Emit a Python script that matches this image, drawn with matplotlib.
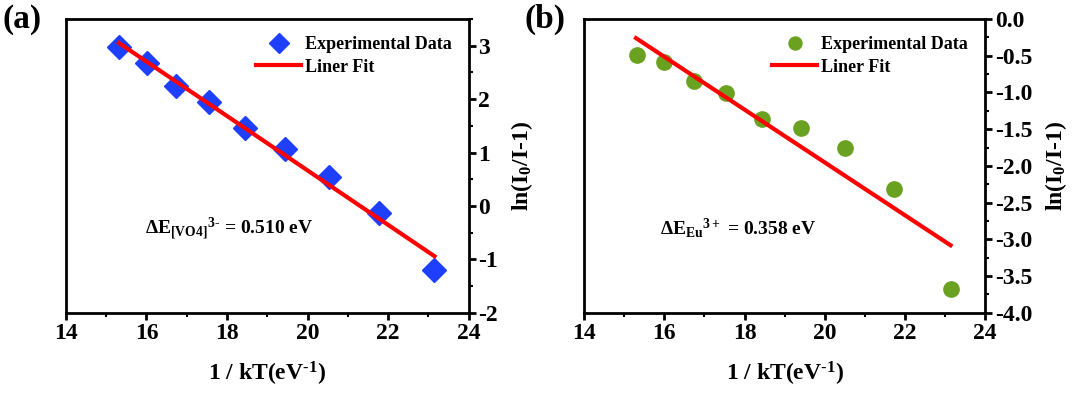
import numpy as np
import matplotlib
matplotlib.use('Agg')
import matplotlib.pyplot as plt
from matplotlib.ticker import MultipleLocator, FormatStrFormatter

plt.rcParams['font.family'] = ['Liberation Serif', 'DejaVu Serif']
plt.rcParams['font.weight'] = 'bold'
plt.rcParams['axes.unicode_minus'] = False
plt.rcParams['mathtext.fontset'] = 'custom'
plt.rcParams['mathtext.rm'] = 'Liberation Serif:bold'
plt.rcParams['mathtext.it'] = 'Liberation Serif:bold'
plt.rcParams['mathtext.bf'] = 'Liberation Serif:bold'

# パネル(a) [VO4]3-
x_a = [15.32, 16.01, 16.74, 17.55, 18.44, 19.45, 20.52, 21.78, 23.15]
y_a = [2.97, 2.68, 2.24, 1.94, 1.46, 1.06, 0.55, -0.14, -1.19]
fit_x_a = [15.32, 23.15]
fit_y_a = [3.05, -0.94]

# パネル(b) Eu3+
x_b = [15.32, 15.98, 16.73, 17.54, 18.44, 19.41, 20.51, 21.74, 23.14]
y_b = [-0.49, -0.59, -0.85, -1.01, -1.36, -1.49, -1.75, -2.32, -3.67]
fit_x_b = [15.29, 23.14]
fit_y_b = [-0.26, -3.08]

fig = plt.figure(figsize=(10.8, 3.96), dpi=100)
ax1 = fig.add_axes([0.061, 0.210, 0.373, 0.742])
ax2 = fig.add_axes([0.541, 0.210, 0.371, 0.742])


def style_axis(ax, ylim, ymajor, yminor):
    ax.set_xlim(14, 24)
    ax.set_ylim(*ylim)
    ax.xaxis.set_major_locator(MultipleLocator(2))
    ax.xaxis.set_minor_locator(MultipleLocator(1))
    ax.yaxis.set_major_locator(MultipleLocator(ymajor))
    ax.yaxis.set_minor_locator(MultipleLocator(yminor))
    ax.yaxis.tick_right()
    ax.yaxis.set_label_position('right')
    for s in ax.spines.values():
        s.set_linewidth(2)
    ax.tick_params(which='major', direction='out', length=5, width=2, labelsize=17, pad=2)
    ax.tick_params(which='minor', direction='out', length=3, width=1.5)
    ax.tick_params(axis='y', which='both', left=False, right=True)
    ax.set_xlabel(r'1 / kT(eV$^{\text{-}1}$)', fontsize=17, fontweight='bold', labelpad=12)
    ax.set_ylabel('ln(I$_0$/I-1)', fontsize=17, fontweight='bold', labelpad=8)
    ax.legend(loc='upper right', frameon=False, fontsize=13, handlelength=2.5,
              handletextpad=0.2, borderaxespad=0.55, labelspacing=0.3, markerscale=0.85)


ax1.plot(x_a, y_a, 'D', color='#1f3fff', ms=12, label='Experimental Data', zorder=2)
ax1.plot(fit_x_a, fit_y_a, '-', color='#ff0000', lw=3, label='Liner Fit', zorder=3)
style_axis(ax1, (-2, 3.5), 1, 0.5)
ax1.text(15.97, -0.42, r'$\Delta$E$_{[VO4]}$$^{3\text{-}}$ = 0.510 eV', fontsize=14,
         fontweight='bold', va='center')

ax2.plot(x_b, y_b, 'o', color='#6aa121', ms=11, label='Experimental Data', zorder=2)
ax2.plot(fit_x_b, fit_y_b, '-', color='#ff0000', lw=3, label='Liner Fit', zorder=3)
style_axis(ax2, (-4, 0), 0.5, 0.25)
ax2.yaxis.set_major_formatter(FormatStrFormatter('%.1f'))
ax2.text(15.9, -2.85, r'$\Delta$E$_{Eu}$$^{3+}$ = 0.358 eV', fontsize=14,
         fontweight='bold', va='center')

fig.text(0.002, 0.950, '(a)', fontsize=24, fontweight='bold', va='center')
fig.text(0.486, 0.950, '(b)', fontsize=24, fontweight='bold', va='center')

plt.savefig('out.png', dpi=100)
